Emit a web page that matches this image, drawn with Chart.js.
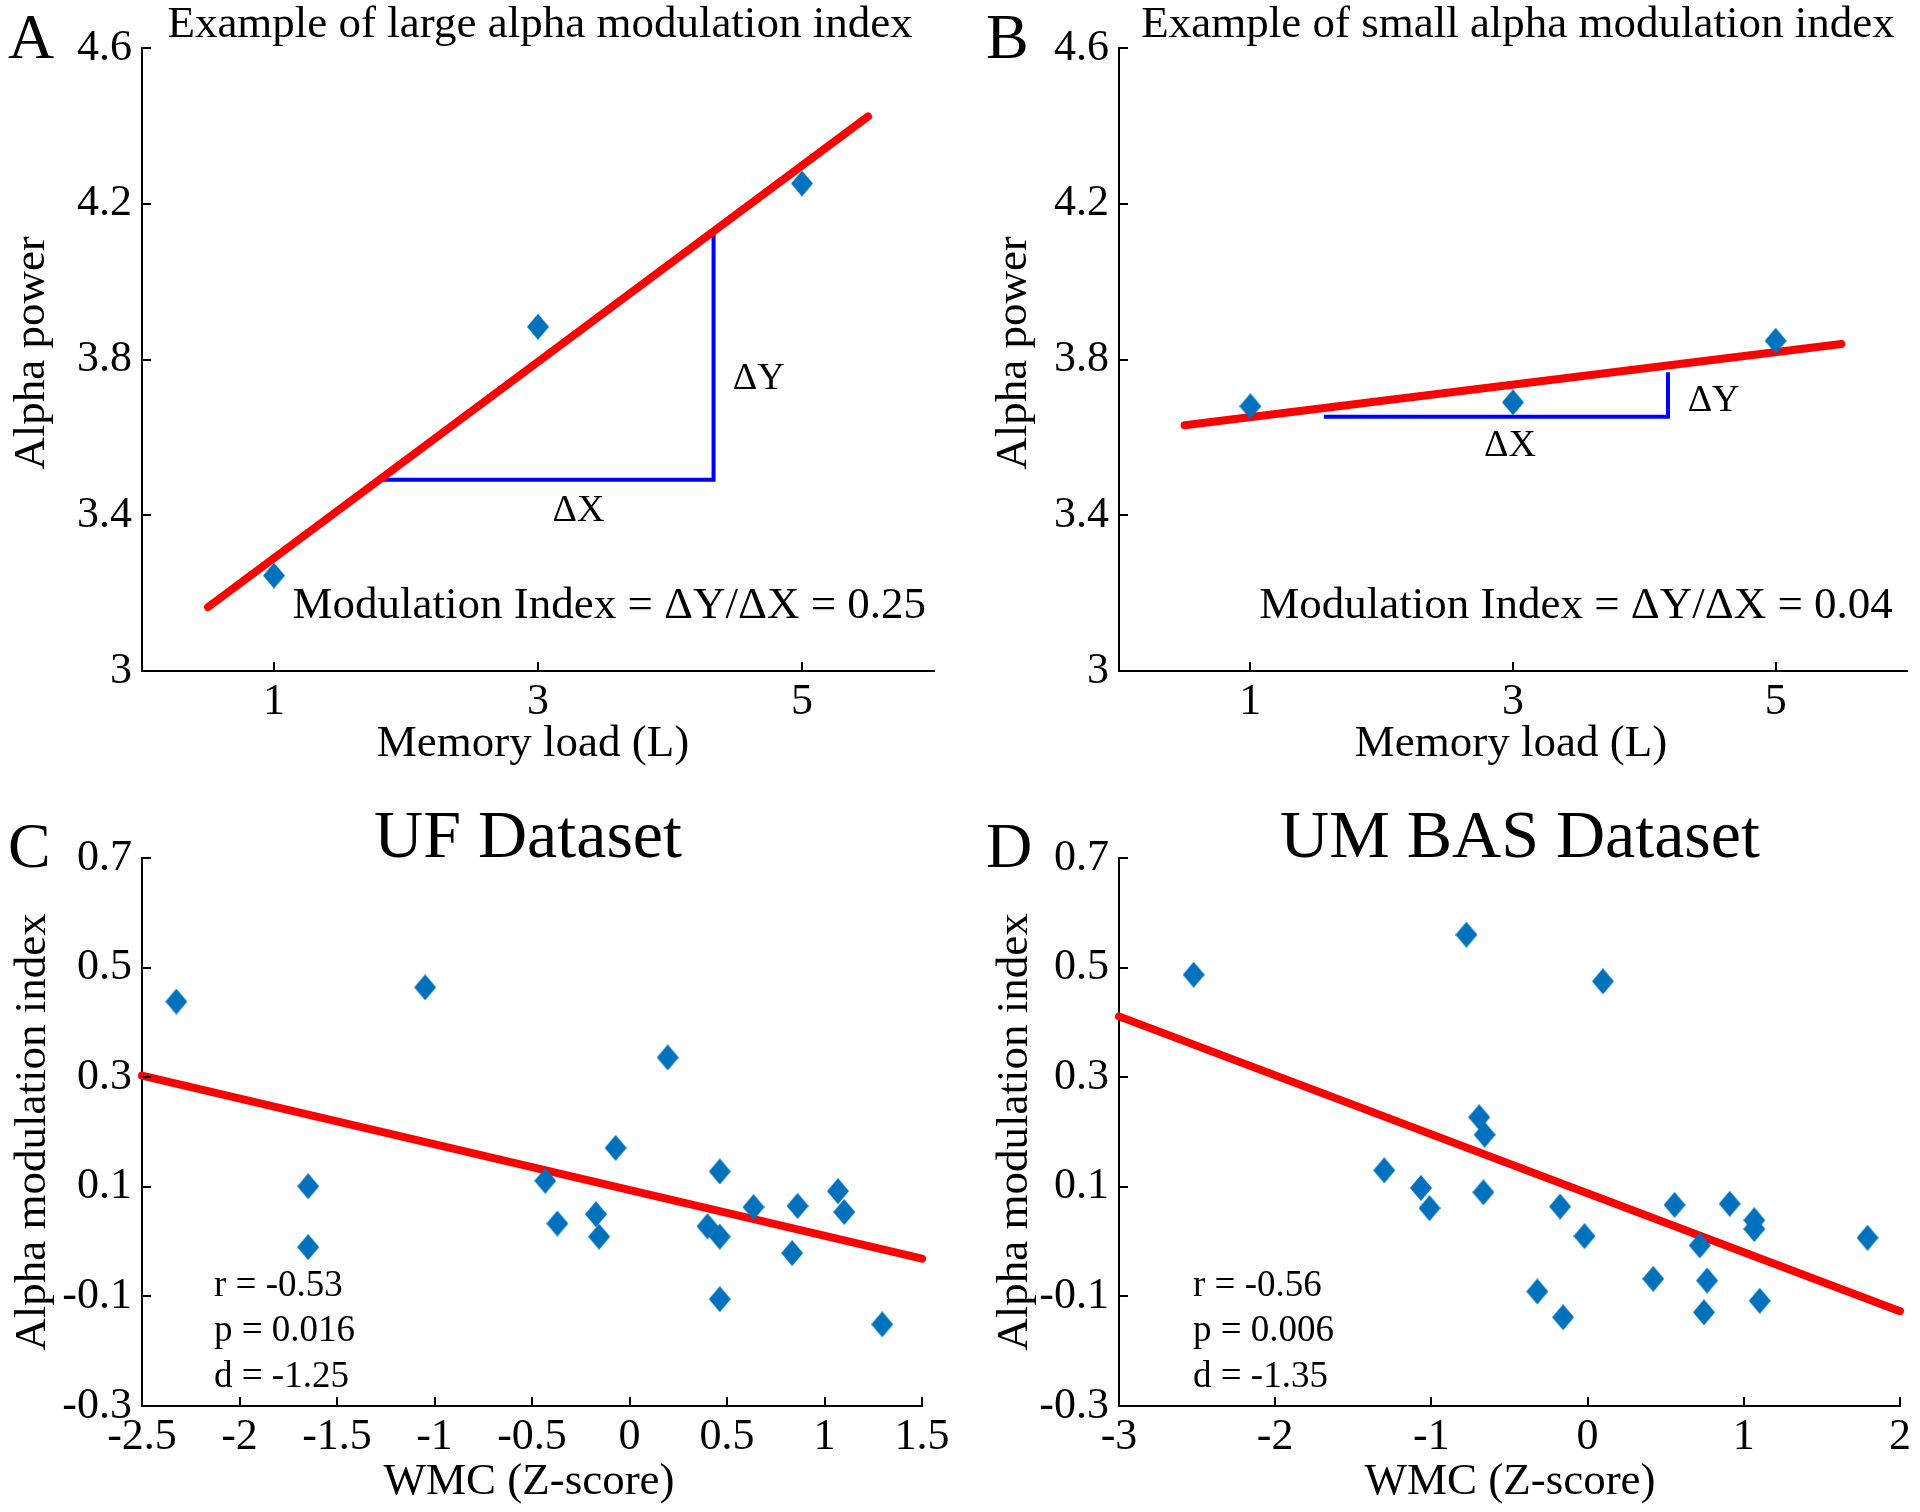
<!DOCTYPE html>
<html>
<head>
<meta charset="utf-8">
<title>Alpha modulation index</title>
<script src="https://cdn.jsdelivr.net/npm/chart.js@4.4.1/dist/chart.umd.min.js"></script>
<style>
  html, body { margin: 0; padding: 0; background: #fff; overflow: hidden; }
  #page { position: relative; width: 1920px; height: 1512px; }
  canvas { position: absolute; }
</style>
</head>
<body>
<div id="page">
  <canvas id="panelA" width="960" height="780" style="left:0;top:0;width:960px;height:780px"></canvas>
  <canvas id="panelB" width="960" height="780" style="left:960px;top:0;width:960px;height:780px"></canvas>
  <canvas id="panelC" width="960" height="756" style="left:0;top:756px;width:960px;height:756px"></canvas>
  <canvas id="panelD" width="960" height="756" style="left:960px;top:756px;width:960px;height:756px"></canvas>
</div>
<script>
// ---- data ----
const loadLevels = [1, 3, 5];
const powerLarge = [3.245, 3.884, 4.252];
const powerSmall = [3.680, 3.690, 3.848];

const fitLoad = [0.5, 5.5];
const fitLarge = [3.164, 4.424];
const fitSmall = [3.631, 3.840];

// slope triangles (dX leg then dY leg)
const triLargeX = [1.79, 4.33, 4.33];
const triLargeY = [3.491, 3.491, 4.122];
const triSmallX = [1.56, 4.18, 4.18];
const triSmallY = [3.653, 3.653, 3.767];

const loadTicks = [1, 3, 5];
const powerTicks = [3, 3.4, 3.8, 4.2, 4.6];

// UF dataset
const wmcUF = [-2.324, -1.048, -1.648, -1.648, 0.196, -0.071, -0.432, -0.370, -0.172, -0.156,
               0.463, 0.636, 0.862, 0.400, 0.463, 0.834, 1.069, 1.101, 0.463, 1.296];
const amiUF = [0.438, 0.464, 0.101, -0.010, 0.336, 0.171, 0.111, 0.033, 0.050, 0.009,
               0.128, 0.063, 0.065, 0.028, 0.009, -0.021, 0.092, 0.054, -0.105, -0.151];
const fitUFx = [-2.5, 1.5];
const fitUFy = [0.303, -0.031];

// UM BAS dataset
const wmcUM = [-2.522, -0.776, 0.098, -0.694, -0.659, -1.302, -1.067, -1.012, -0.667, -0.176,
               -0.020, 0.557, 0.910, 1.067, 1.067, 0.718, 1.792, 0.420, 0.765, -0.322,
               1.102, -0.157, 0.745];
const amiUM = [0.487, 0.560, 0.475, 0.227, 0.195, 0.130, 0.098, 0.061, 0.090, 0.064,
               0.010, 0.067, 0.069, 0.039, 0.023, -0.007, 0.007, -0.068, -0.071, -0.091,
               -0.108, -0.138, -0.129];
const fitUMx = [-3, 2];
const fitUMy = [0.411, -0.127];

const amiTicks = [-0.3, -0.1, 0.1, 0.3, 0.5, 0.7];
const wmcTicksUF = [-2.5, -2, -1.5, -1, -0.5, 0, 0.5, 1, 1.5];
const wmcTicksUM = [-3, -2, -1, 0, 1, 2];

const statsUF = ['r = -0.53', 'p = 0.016', 'd = -1.25'];
const statsUM = ['r = -0.56', 'p = 0.006', 'd = -1.35'];

// ---- styling ----
const FONT = 'Liberation Serif, Times New Roman, serif';
const RED = '#ff0000';
const BLUE = '#0000ff';
const MARKER = '#0072bd';

function makeDiamond(w, h, color) {
  const c = document.createElement('canvas');
  c.width = w; c.height = h;
  const g = c.getContext('2d');
  g.fillStyle = color;
  g.beginPath();
  g.moveTo(w / 2, 0);
  g.lineTo(w, h / 2);
  g.lineTo(w / 2, h);
  g.lineTo(0, h / 2);
  g.closePath();
  g.fill();
  return c;
}
const diamond = makeDiamond(22, 26, MARKER);

const zip = (xs, ys) => xs.map((x, i) => ({ x: x, y: ys[i] }));

// inward tick marks + free text
const decorPlugin = {
  id: 'decor',
  afterDraw(chart, args, opts) {
    const ctx = chart.ctx;
    const { left, bottom } = chart.chartArea;
    const sx = chart.scales.x, sy = chart.scales.y;
    ctx.save();
    ctx.strokeStyle = '#000';
    ctx.lineWidth = 2;
    ctx.beginPath();
    sx.ticks.forEach(t => {
      const px = Math.round(sx.getPixelForValue(t.value));
      ctx.moveTo(px, bottom);
      ctx.lineTo(px, bottom - 9);
    });
    sy.ticks.forEach(t => {
      const py = Math.round(sy.getPixelForValue(t.value));
      ctx.moveTo(left, py);
      ctx.lineTo(left + 9, py);
    });
    ctx.stroke();

    ctx.fillStyle = '#000';
    (opts.texts || []).forEach(t => {
      let x = t.x, y = t.y;
      if (t.data) {
        x = sx.getPixelForValue(t.x);
        y = sy.getPixelForValue(t.y);
      }
      ctx.save();
      ctx.font = t.size + 'px ' + FONT;
      ctx.textAlign = t.align || 'left';
      ctx.textBaseline = 'alphabetic';
      ctx.translate(x, y);
      if (t.rotate) ctx.rotate(-Math.PI / 2);
      ctx.fillText(t.text, 0, 0);
      ctx.restore();
    });
    ctx.restore();
  }
};

function axis(min, max, ticks, fitSize, isX) {
  return {
    type: 'linear',
    min: min,
    max: max,
    bounds: 'data',
    afterBuildTicks: s => { s.ticks = ticks.map(v => ({ value: v })); },
    afterFit: s => { if (isX) s.height = fitSize; else s.width = fitSize; },
    grid: { display: false, drawTicks: false },
    border: { display: true, color: '#000', width: 2 },
    ticks: {
      color: '#000',
      font: { family: FONT, size: 44, lineHeight: 1 },
      padding: isX ? 9 : 10,
      autoSkip: false,
      maxRotation: 0,
      callback: v => String(v)
    }
  };
}

function makePanel(id, p) {
  const datasets = [
    { data: zip(p.px, p.py), pointStyle: diamond, pointRadius: 12, showLine: false, clip: false },
    { data: zip(p.fx, p.fy), showLine: true, pointRadius: 0, borderColor: RED, borderWidth: 8,
      borderCapStyle: 'round', clip: false }
  ];
  if (p.tx) {
    datasets.push({ data: zip(p.tx, p.ty), showLine: true, pointRadius: 0, borderColor: BLUE,
      borderWidth: 4, borderJoinStyle: 'miter', clip: false });
  }
  return new Chart(document.getElementById(id), {
    type: 'scatter',
    data: { datasets: datasets },
    options: {
      responsive: false,
      animation: false,
      events: [],
      layout: { padding: { left: 0, top: p.top, right: p.right, bottom: 0 } },
      scales: {
        x: axis(p.xmin, p.xmax, p.xticks, p.xh, true),
        y: axis(p.ymin, p.ymax, p.yticks, p.yw, false)
      },
      plugins: {
        legend: { display: false },
        tooltip: { enabled: false },
        decor: { texts: p.texts }
      }
    },
    plugins: [decorPlugin]
  });
}

makePanel('panelA', {
  px: loadLevels, py: powerLarge, fx: fitLoad, fy: fitLarge, tx: triLargeX, ty: triLargeY,
  xmin: 0, xmax: 6, xticks: loadTicks, ymin: 3, ymax: 4.6, yticks: powerTicks,
  top: 48, right: 26, yw: 142, xh: 109,
  texts: [
    { text: 'A', x: 8, y: 58, size: 64 },
    { text: 'Example of large alpha modulation index', x: 540, y: 37, size: 45, align: 'center' },
    { text: 'Memory load (L)', x: 533, y: 756, size: 45, align: 'center' },
    { text: 'Alpha power', x: 44, y: 353, size: 45, align: 'center', rotate: true },
    { text: 'Modulation Index = \u0394Y/\u0394X = 0.25', x: 1.14, y: 3.136, size: 45, data: true },
    { text: '\u0394Y', x: 4.475, y: 3.723, size: 38, data: true },
    { text: '\u0394X', x: 3.11, y: 3.384, size: 38, data: true }
  ]
});

makePanel('panelB', {
  px: loadLevels, py: powerSmall, fx: fitLoad, fy: fitSmall, tx: triSmallX, ty: triSmallY,
  xmin: 0, xmax: 6, xticks: loadTicks, ymin: 3, ymax: 4.6, yticks: powerTicks,
  top: 48, right: 9, yw: 159, xh: 109,
  texts: [
    { text: 'B', x: 26, y: 58, size: 64 },
    { text: 'Example of small alpha modulation index', x: 558, y: 37, size: 45, align: 'center' },
    { text: 'Memory load (L)', x: 551, y: 756, size: 45, align: 'center' },
    { text: 'Alpha power', x: 66, y: 353, size: 45, align: 'center', rotate: true },
    { text: 'Modulation Index = \u0394Y/\u0394X = 0.04', x: 1.068, y: 3.136, size: 45, data: true },
    { text: '\u0394Y', x: 4.33, y: 3.668, size: 38, data: true },
    { text: '\u0394X', x: 2.78, y: 3.552, size: 38, data: true }
  ]
});

makePanel('panelC', {
  px: wmcUF, py: amiUF, fx: fitUFx, fy: fitUFy,
  xmin: -2.5, xmax: 1.5, xticks: wmcTicksUF, ymin: -0.3, ymax: 0.7, yticks: amiTicks,
  top: 102, right: 38, yw: 142, xh: 106,
  texts: [
    { text: 'C', x: 8, y: 111, size: 64 },
    { text: 'UF Dataset', x: 528, y: 101, size: 68, align: 'center' },
    { text: 'WMC (Z-score)', x: 529, y: 738, size: 45, align: 'center' },
    { text: 'Alpha modulation index', x: 45, y: 376, size: 45, align: 'center', rotate: true },
    { text: statsUF[0], x: 214, y: 540, size: 37 },
    { text: statsUF[1], x: 214, y: 585, size: 37 },
    { text: statsUF[2], x: 214, y: 631, size: 37 }
  ]
});

makePanel('panelD', {
  px: wmcUM, py: amiUM, fx: fitUMx, fy: fitUMy,
  xmin: -3, xmax: 2, xticks: wmcTicksUM, ymin: -0.3, ymax: 0.7, yticks: amiTicks,
  top: 102, right: 20, yw: 159, xh: 106,
  texts: [
    { text: 'D', x: 26, y: 111, size: 64 },
    { text: 'UM BAS Dataset', x: 560, y: 101, size: 68, align: 'center' },
    { text: 'WMC (Z-score)', x: 550, y: 738, size: 45, align: 'center' },
    { text: 'Alpha modulation index', x: 67, y: 376, size: 45, align: 'center', rotate: true },
    { text: statsUM[0], x: 233, y: 540, size: 37 },
    { text: statsUM[1], x: 233, y: 585, size: 37 },
    { text: statsUM[2], x: 233, y: 631, size: 37 }
  ]
});
</script>
</body>
</html>
